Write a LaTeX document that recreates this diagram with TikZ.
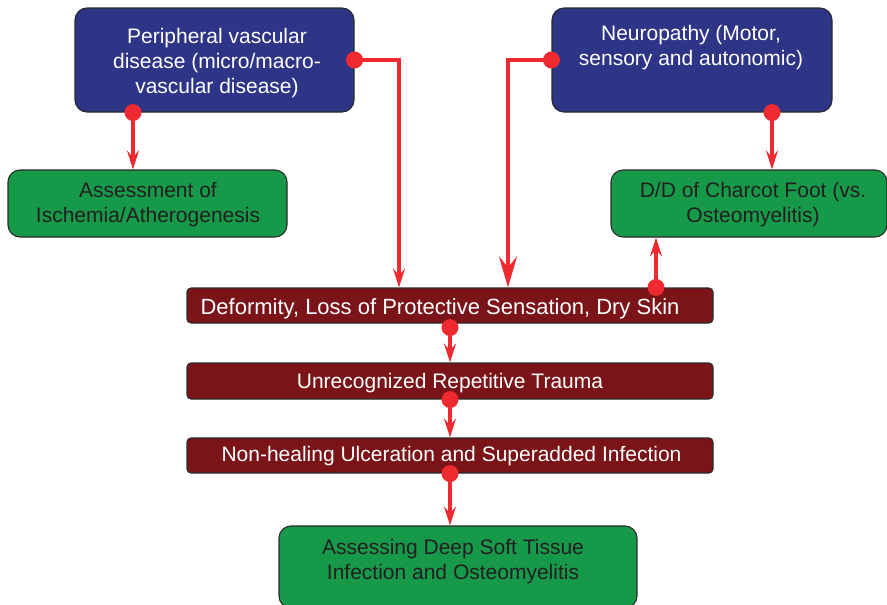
\documentclass[tikz,border=0pt]{standalone}
\usepackage{fontspec}
\setmainfont{Liberation Sans}
\usetikzlibrary{arrows.meta,positioning,calc}
\definecolor{cblue}{HTML}{2E3486}
\definecolor{cgreen}{HTML}{17994A}
\definecolor{cdred}{HTML}{7A1418}
\definecolor{cred}{HTML}{EE2A30}
\definecolor{cborder}{HTML}{2B2B2B}
\definecolor{ctext}{HTML}{231F20}
\tikzset{
  box/.style={draw=cborder, line width=1.1pt, rounded corners=12pt, inner sep=0pt},
  bluebox/.style={box, fill=cblue},
  greenbox/.style={box, fill=cgreen},
  redbar/.style={box, fill=cdred, rounded corners=4pt},
  lbl/.style={align=center, inner sep=0pt, yshift=-2.5pt, font=\fontsize{21}{25}\selectfont},
  wlbl/.style={lbl, text=white},
  dlbl/.style={lbl, text=ctext},
  conn/.style={draw=cred, line width=3.2pt, -{Stealth[length=19pt,width=12pt,inset=7pt]}},
  bigconn/.style={draw=cred, line width=3.2pt, -{Stealth[length=31pt,width=18pt,inset=11pt]}},
  dot/.style={circle, fill=cred, minimum size=17pt, inner sep=0pt},
}
\begin{document}
\begin{tikzpicture}[x=1pt,y=-1pt]
\useasboundingbox (0,0) rectangle (887,605);
\node[bluebox, minimum width=279pt, minimum height=104pt] (A) at (214.5,60) {};
\node[wlbl] (At) at (217,61) {Peripheral vascular\\disease (micro/macro-\\vascular disease)};
\node[bluebox, minimum width=280pt, minimum height=104pt] (B) at (692,60) {};
\node[wlbl] (Bt) at (691,45.5) {Neuropathy (Motor,\\sensory and autonomic)};
\node[greenbox, minimum width=279pt, minimum height=67pt] (C) at (147.5,203.5) {};
\node[dlbl] (Ct) at (148,202.5) {Assessment of\\Ischemia/Atherogenesis};
\node[greenbox, minimum width=276pt, minimum height=67pt] (D) at (749,203.5) {};
\node[dlbl] (Dt) at (753,202.5) {D/D of Charcot Foot (vs.\\Osteomyelitis)};
\node[redbar, minimum width=526pt, minimum height=35pt] (E) at (450,305.5) {};
\node[wlbl, font=\fontsize{22}{25}\selectfont] (Et) at (440,306) {Deformity, Loss of Protective Sensation, Dry Skin};
\node[redbar, minimum width=526pt, minimum height=36pt] (F) at (450,381) {};
\node[wlbl] (Ft) at (450,381) {Unrecognized Repetitive Trauma};
\node[redbar, minimum width=526pt, minimum height=35pt] (G) at (450,455.5) {};
\node[wlbl] (Gt) at (451.5,454) {Non-healing Ulceration and Superadded Infection};
\node[greenbox, minimum width=358pt, minimum height=82pt] (H) at (458,567) {};
\node[dlbl] (Ht) at (453,559.5) {Assessing Deep Soft Tissue\\Infection and Osteomyelitis};
% connectors
\draw[conn] ([xshift=-81.5pt]A.south) -- ([xshift=-14.5pt]C.north);
\node[dot] at ([xshift=-81.5pt]A.south) {};
\draw[conn] (A.east) -| ([xshift=-51pt]E.north);
\node[dot] at (A.east) {};
\draw[bigconn] (B.west) -| ([xshift=58pt]E.north);
\node[dot] at (B.west) {};
\draw[conn] ([xshift=80pt]B.south) -- ([xshift=23pt]D.north);
\node[dot] at ([xshift=80pt]B.south) {};
\draw[conn] ([xshift=206pt]E.north) -- ([xshift=-93pt]D.south);
\node[dot] at ([xshift=206pt]E.north) {};
\draw[conn] ([yshift=-4pt]E.south) -- (F.north);
\node[dot] at ([yshift=-4pt]E.south) {};
\draw[conn] (F.south) -- (G.north);
\node[dot] at (F.south) {};
\draw[conn] (G.south) -- (G.south |- H.north);
\node[dot] at (G.south) {};
\end{tikzpicture}
\end{document}
